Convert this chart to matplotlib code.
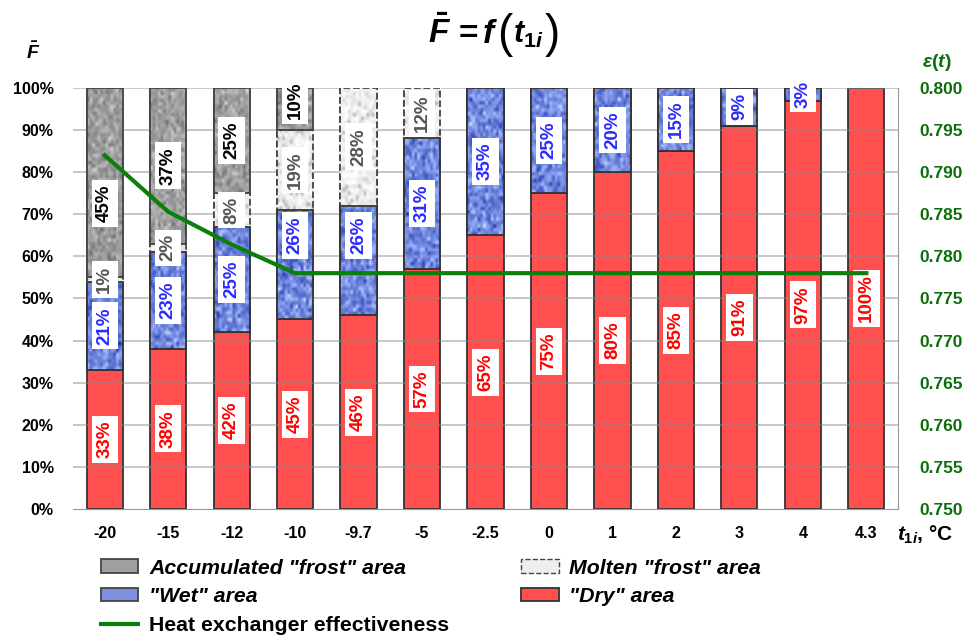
import numpy as np
import matplotlib
matplotlib.use("Agg")
import matplotlib.pyplot as plt
from matplotlib.patches import Patch
from matplotlib.lines import Line2D

plt.rcParams['font.family'] = ['Liberation Sans', 'DejaVu Sans']
plt.rcParams['mathtext.fontset'] = 'custom'
plt.rcParams['mathtext.it'] = 'Liberation Sans:bold:italic'
plt.rcParams['mathtext.rm'] = 'Liberation Sans:bold'
plt.rcParams['mathtext.bf'] = 'Liberation Sans:bold'

# inlet temperature, °C
temps = ['-20', '-15', '-12', '-10', '-9.7', '-5', '-2.5', '0', '1', '2', '3', '4', '4.3']
# share of heat exchanger surface, %
dry = [33, 38, 42, 45, 46, 57, 65, 75, 80, 85, 91, 97, 100]
wet = [21, 23, 25, 26, 26, 31, 35, 25, 20, 15, 9, 3, 0]
molten = [1, 2, 8, 19, 28, 12, 0, 0, 0, 0, 0, 0, 0]
accum = [45, 37, 25, 10, 0, 0, 0, 0, 0, 0, 0, 0, 0]
# heat exchanger effectiveness
eff = [0.792, 0.7853, 0.7814, 0.778, 0.778, 0.778, 0.778, 0.778, 0.778, 0.778, 0.778, 0.778, 0.778]

# labels shifted off the segment centre so they clear the curve
label_pos = {('wet', 3): 65, ('wet', 4): 65, ('accum', 0): 72.5,
             ('wet', 11): 98.5, ('accum', 3): 97}

rng = np.random.default_rng(7)


def texture(kind, h, w):
    n = rng.normal(0, 1, (h, w))
    if kind == 'accum':
        g = np.clip(0.62 + 0.09 * n, 0, 1)
        return np.dstack([g, g, g])
    if kind == 'molten':
        g = np.clip(0.94 + 0.05 * n, 0, 1)
        g[rng.random((h, w)) < 0.08] = 0.7
        return np.dstack([g, g, g])
    # wet
    base = np.array([0.44, 0.53, 0.87])
    return np.clip(base + 0.13 * n[..., None] * np.array([1.0, 1.0, 0.6]), 0, 1)


fig = plt.figure(figsize=(9.73, 6.37), dpi=100)
ax = fig.add_axes([0.075, 0.201, 0.848, 0.661])
x = np.arange(len(temps))
w = 0.57

for s in ['top', 'left', 'right']:
    ax.spines[s].set_visible(False)
ax.spines['bottom'].set_color('#999999')

bottoms = np.zeros(len(temps))
layers = [
    (dry, 'dry', '#ff4f4f', '#333333', '-', '#ff0000'),
    (wet, 'wet', '#7f90dd', '#333333', '-', '#2b2bff'),
    (molten, 'molten', '#eeeeee', '#444444', '--', '#555555'),
    (accum, 'accum', '#a0a0a0', '#444444', '-', '#000000'),
]
for vals, kind, fc, ec, ls, tc in layers:
    vals = np.array(vals, dtype=float)
    bars = ax.bar(x, vals, w, bottom=bottoms, color=fc, edgecolor=ec,
                  linewidth=1.3, linestyle=ls, zorder=2)
    for i, (xi, rect, v, b) in enumerate(zip(x, bars, vals, bottoms)):
        if v <= 0:
            continue
        if kind != 'dry':
            img = texture(kind, max(int(v * 1.2), 4), 14)
            im = ax.imshow(img, extent=(xi - w / 2, xi + w / 2, b, b + v),
                           aspect='auto', interpolation='bilinear', zorder=2.1)
            im.set_clip_path(rect)
            ax.bar(xi, v, w, bottom=b, fill=False, edgecolor=ec,
                   linewidth=1.3, linestyle=ls, zorder=2.2)
        ypos = label_pos.get((kind, i), b + v / 2)
        ax.text(xi, ypos, f'{int(v)}%', rotation=90, ha='center', va='center',
                fontsize=13.5, fontweight='bold', color=tc, zorder=6,
                bbox=dict(boxstyle='square,pad=0.25', fc='white', ec='none'))
    bottoms = bottoms + vals

for yv in np.arange(10, 101, 10):
    ax.axhline(yv, color='#888888', lw=1.1, alpha=0.6, zorder=2.05)

ax.set_xlim(-0.5, 12.5)
ax.set_ylim(0, 100)
ax.set_yticks(np.arange(0, 101, 10))
ax.set_yticklabels([f'{v}%' for v in range(0, 101, 10)])
ax.set_xticks(x)
ax.set_xticklabels(temps)
ax.tick_params(axis='both', length=0, labelsize=11.5)
ax.tick_params(axis='y', pad=14)
ax.tick_params(axis='x', pad=12)
for lab in ax.get_xticklabels() + ax.get_yticklabels():
    lab.set_fontweight('bold')

ax2 = ax.twinx()
for s in ['top', 'left', 'bottom']:
    ax2.spines[s].set_visible(False)
ax2.spines['right'].set_color('#999999')
ax2.plot(x, eff, color='#0a800a', lw=3, zorder=5)
ax2.set_ylim(0.75, 0.80)
ax2.set_yticks(np.arange(0.75, 0.8001, 0.005))
ax2.set_yticklabels([f'{v:.3f}' for v in np.arange(0.75, 0.8001, 0.005)])
ax2.tick_params(axis='y', length=0, labelsize=12.5, labelcolor='#0b6e0b', pad=15)
for lab in ax2.get_yticklabels():
    lab.set_fontweight('bold')

# title F = f(t1i), pieced together so the brackets can be taller
ty = 0.933
for px, s, fs, dy in [(428, r'$\bar{F}$', 24, 0), (459, '=', 24, 0),
                      (482, r'$f$', 24, 0), (497, '(', 33, -0.006),
                      (513, r'$t_{1i}$', 22, 0), (545, ')', 33, -0.006)]:
    fig.text(px / 973, ty + dy, s, ha='left', va='baseline', fontsize=fs,
             fontweight='bold' if s == '=' else 'normal')

fig.text(0.034, 0.918, r'$\bar{F}$', ha='center', va='center', fontsize=14)
fig.text(0.963, 0.902, r'$\varepsilon(t)$', ha='center', va='center',
         fontsize=14, color='#0b6e0b')
fig.text(0.922, 0.160, r'$t_{1i}$, °C', ha='left', va='center',
         fontsize=15, fontweight='bold')

handles = [
    Patch(fc='#a0a0a0', ec='#444444', lw=1.3),
    Patch(fc='#7f90dd', ec='#444444', lw=1.3),
    Line2D([], [], color='#0a800a', lw=3),
    Patch(fc='#eeeeee', ec='#444444', lw=1.0, ls='--'),
    Patch(fc='#ff4f4f', ec='#333333', lw=1.3),
]
labels = ['Accumulated "frost" area', '"Wet" area', 'Heat exchanger effectiveness',
          'Molten "frost" area', '"Dry" area']
leg = fig.legend(handles, labels, ncol=2, loc='upper left',
                 bbox_to_anchor=(0.104, 0.123), frameon=False, fontsize=15.3,
                 handlelength=1.75, handleheight=0.6, handletextpad=0.5,
                 labelspacing=0.45, columnspacing=3.4, borderaxespad=0,
                 borderpad=0)
for t in leg.get_texts():
    t.set_fontweight('bold')
    if not t.get_text().startswith('Heat'):
        t.set_fontstyle('italic')

fig.savefig('out.png', dpi=100)
